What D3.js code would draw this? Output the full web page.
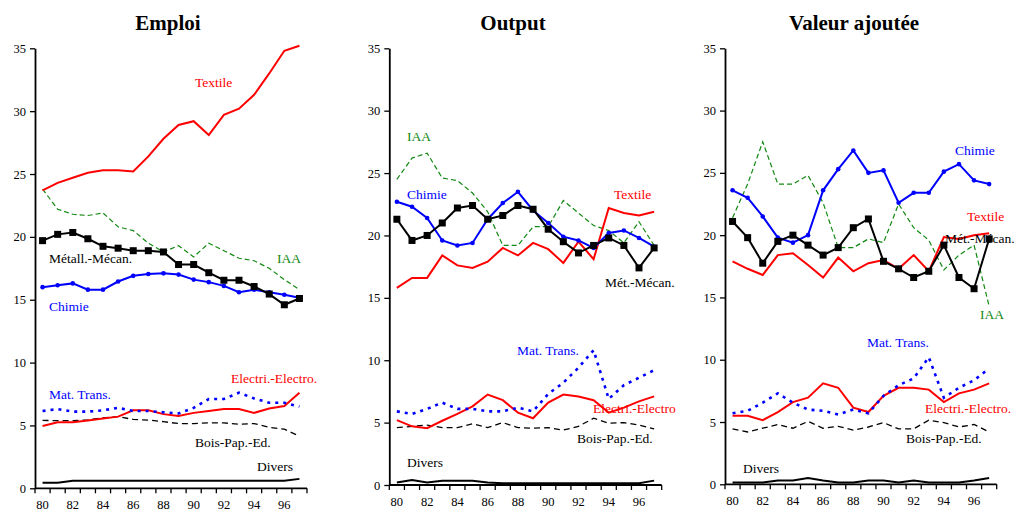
<!DOCTYPE html>
<html>
<head>
<meta charset="utf-8">
<script src="https://cdn.jsdelivr.net/npm/d3@7"></script>
<style>
  html, body { margin: 0; padding: 0; background: #fff; }
  svg { display: block; font-family: "Liberation Serif", "DejaVu Serif", serif; }
</style>
</head>
<body>
<svg id="chart" width="1015" height="513"></svg>
<script>
// ---------- data ----------
const years = ["80","81","82","83","84","85","86","87","88","89","90","91","92","93","94","95","96","97"];
const yearLabels = ["80","82","84","86","88","90","92","94","96"];
const yTicks = [0, 5, 10, 15, 20, 25, 30, 35];
const panelTitles = ["Emploi", "Output", "Valeur ajoutée"];

// Emploi
const emploiTextile = [23.7,24.3,24.7,25.1,25.3,25.3,25.2,26.4,27.8,28.9,29.2,28.1,29.7,30.2,31.3,33.0,34.8,35.2];
const emploiIAA     = [23.8,22.2,21.8,21.7,21.9,20.8,20.5,19.5,18.8,19.3,18.4,19.5,18.9,18.3,18.1,17.5,16.6,15.8];
const emploiMetal   = [19.7,20.2,20.35,19.85,19.25,19.1,18.9,18.9,18.8,17.8,17.8,17.15,16.55,16.55,16.05,15.45,14.6,15.1];
const emploiChimie  = [16.0,16.15,16.3,15.8,15.8,16.45,16.9,17.05,17.1,17.0,16.6,16.4,16.1,15.6,15.8,15.6,15.4,15.15];
const emploiMatTr   = [6.15,6.3,6.1,6.1,6.2,6.4,6.15,6.15,6.05,5.95,6.4,7.1,7.1,7.6,7.15,6.8,6.8,6.5];
const emploiElec    = [4.95,5.25,5.25,5.4,5.55,5.7,6.2,6.2,5.9,5.75,6.0,6.15,6.3,6.3,6.0,6.35,6.55,7.6];
const emploiBois    = [5.4,5.38,5.38,5.45,5.6,5.7,5.48,5.43,5.3,5.15,5.15,5.2,5.2,5.1,5.15,4.85,4.7,4.15];
const emploiDivers  = [0.45,0.45,0.6,0.6,0.6,0.6,0.6,0.6,0.6,0.6,0.6,0.6,0.6,0.6,0.6,0.6,0.6,0.75];

// Output
const outputTextile = [15.8,16.6,16.6,18.4,17.6,17.4,17.9,19.0,18.4,19.4,18.9,17.8,19.5,18.1,22.2,21.8,21.6,21.9];
const outputIAA     = [24.5,26.2,26.6,24.6,24.4,23.4,21.9,19.2,19.2,20.7,20.7,22.8,21.8,20.8,20.4,19.4,21.1,19.2];
const outputMetal   = [21.3,19.6,20.0,21.0,22.2,22.4,21.3,21.6,22.4,22.1,20.5,19.5,18.6,19.2,19.8,19.2,17.4,19.0];
const outputChimie  = [22.7,22.3,21.4,19.6,19.2,19.4,21.3,22.6,23.5,22.0,21.0,19.9,19.6,19.0,20.2,20.4,19.8,19.1];
const outputMatTr   = [5.9,5.7,6.1,6.6,6.1,6.1,5.9,5.9,6.2,5.9,7.3,8.2,9.4,10.8,6.9,8.0,8.6,9.2];
const outputElec    = [5.2,4.7,4.55,5.15,5.7,6.3,7.25,6.8,5.8,5.35,6.6,7.25,7.1,6.8,5.8,6.2,6.7,7.1];
const outputBois    = [4.6,4.7,4.8,4.6,4.6,4.9,4.6,5.0,4.6,4.55,4.6,4.4,4.7,5.35,4.95,5.0,4.8,4.5];
const outputDivers  = [0.2,0.4,0.2,0.35,0.35,0.35,0.2,0.15,0.15,0.15,0.15,0.15,0.15,0.15,0.15,0.15,0.15,0.35];

// Valeur ajoutée
const vaTextile = [17.9,17.3,16.8,18.4,18.55,17.6,16.6,18.2,17.1,17.75,18.0,17.3,18.4,17.1,19.85,19.7,20.0,20.15];
const vaIAA     = [21.4,24.1,27.5,24.1,24.1,24.8,22.6,19.0,19.0,19.7,19.4,22.5,20.6,19.6,17.2,18.4,19.2,14.3];
const vaMetal   = [21.1,19.8,17.75,19.5,20.0,19.2,18.4,19.0,20.6,21.3,17.9,17.3,16.6,17.1,19.2,16.6,15.7,19.7];
const vaChimie  = [23.6,23.0,21.5,19.8,19.4,20.0,23.6,25.3,26.8,25.0,25.2,22.6,23.4,23.4,25.1,25.7,24.4,24.1];
const vaMatTr   = [5.7,5.9,6.55,7.3,6.55,6.0,5.9,5.6,6.0,5.7,7.1,7.95,8.5,10.2,6.95,7.75,8.35,9.3];
const vaElec    = [5.5,5.5,5.15,5.8,6.6,6.95,8.1,7.75,6.15,5.8,7.1,7.75,7.75,7.6,6.6,7.3,7.6,8.1];
const vaBois    = [4.45,4.2,4.5,4.8,4.5,5.05,4.5,4.65,4.35,4.6,4.95,4.45,4.45,5.15,4.95,4.6,4.8,4.2];
const vaDivers  = [0.15,0.15,0.15,0.3,0.3,0.5,0.3,0.15,0.15,0.3,0.3,0.15,0.3,0.15,0.15,0.15,0.3,0.5];

// ---------- styles per series ----------
const styles = {
  textile: { color: "#ff0000", width: 2, dash: null },
  iaa:     { color: "#118811", width: 1.2, dash: "5,3" },
  metal:   { color: "#000000", width: 2, dash: null, marker: "square" },
  chimie:  { color: "#0000ff", width: 2, dash: null, marker: "circle" },
  matTr:   { color: "#0000ff", width: 2.6, dash: "3,5" },
  elec:    { color: "#ff0000", width: 2, dash: null },
  bois:    { color: "#000000", width: 1.3, dash: "6,4" },
  divers:  { color: "#000000", width: 2, dash: null }
};
const drawOrder = ["divers","bois","elec","matTr","iaa","textile","chimie","metal"];

const panels = [
  { title: panelTitles[0], left: 35, right: 307, yTop: 48.3, yBottom: 488.3, titleX: 168,
    series: { textile: emploiTextile, iaa: emploiIAA, metal: emploiMetal, chimie: emploiChimie,
              matTr: emploiMatTr, elec: emploiElec, bois: emploiBois, divers: emploiDivers },
    labels: [
      { text: "Textile", key: "textile", x: 195, y: 87 },
      { text: "IAA", key: "iaa", x: 277, y: 263 },
      { text: "Métall.-Mécan.", key: "metal", x: 49, y: 263 },
      { text: "Chimie", key: "chimie", x: 49, y: 311 },
      { text: "Mat. Trans.", key: "matTr", x: 49, y: 399 },
      { text: "Electri.-Electro.", key: "elec", x: 231, y: 383 },
      { text: "Bois-Pap.-Ed.", key: "bois", x: 195, y: 447 },
      { text: "Divers", key: "divers", x: 257, y: 471 }
    ] },
  { title: panelTitles[1], left: 389.3, right: 661.7, yTop: 48.3, yBottom: 485, titleX: 513,
    series: { textile: outputTextile, iaa: outputIAA, metal: outputMetal, chimie: outputChimie,
              matTr: outputMatTr, elec: outputElec, bois: outputBois, divers: outputDivers },
    labels: [
      { text: "IAA", key: "iaa", x: 407, y: 141 },
      { text: "Chimie", key: "chimie", x: 407, y: 199 },
      { text: "Textile", key: "textile", x: 614, y: 199 },
      { text: "Mét.-Mécan.", key: "metal", x: 605, y: 287 },
      { text: "Mat. Trans.", key: "matTr", x: 517, y: 355 },
      { text: "Electri.-Electro", key: "elec", x: 593, y: 413 },
      { text: "Bois-Pap.-Ed.", key: "bois", x: 577, y: 443 },
      { text: "Divers", key: "divers", x: 407, y: 467 }
    ] },
  { title: panelTitles[2], left: 725, right: 996.7, yTop: 48.3, yBottom: 484.3, titleX: 854,
    series: { textile: vaTextile, iaa: vaIAA, metal: vaMetal, chimie: vaChimie,
              matTr: vaMatTr, elec: vaElec, bois: vaBois, divers: vaDivers },
    labels: [
      { text: "Chimie", key: "chimie", x: 955, y: 155 },
      { text: "Textile", key: "textile", x: 967, y: 221 },
      { text: "Mét.-Mécan.", key: "metal", x: 945, y: 243 },
      { text: "IAA", key: "iaa", x: 980, y: 319 },
      { text: "Mat. Trans.", key: "matTr", x: 867, y: 347 },
      { text: "Electri.-Electro.", key: "elec", x: 925, y: 413 },
      { text: "Bois-Pap.-Ed.", key: "bois", x: 906, y: 443 },
      { text: "Divers", key: "divers", x: 743, y: 473 }
    ] }
];

// ---------- drawing ----------
const svg = d3.select("#chart");

panels.forEach(p => {
  const g = svg.append("g");
  const x = d3.scaleBand().domain(years).range([p.left, p.right]).padding(0);
  const y = d3.scaleLinear().domain([0, 35]).range([p.yBottom, p.yTop]);
  const cx = d => x(d) + x.bandwidth() / 2;

  // title
  g.append("text").attr("x", p.titleX).attr("y", 30).attr("text-anchor", "middle")
    .attr("font-size", 21).attr("font-weight", "bold").text(p.title);

  // y axis
  const yAxis = d3.axisLeft(y).tickValues(yTicks).tickSize(5).tickSizeOuter(0).tickPadding(4);
  const ya = g.append("g").attr("transform", `translate(${p.left},0)`).call(yAxis);
  ya.select(".domain").attr("stroke", "#000").attr("stroke-width", 1.8);
  ya.selectAll(".tick line").attr("stroke", "#000").attr("stroke-width", 1.3);
  ya.selectAll(".tick text").attr("font-family", "Liberation Serif, serif").attr("font-size", 12.5).attr("fill", "#000");

  // x axis: line, ticks at category boundaries, labels at centers of even years
  const xa = g.append("g");
  xa.append("line").attr("x1", p.left).attr("x2", p.right).attr("y1", y(0)).attr("y2", y(0))
    .attr("stroke", "#000").attr("stroke-width", 1.8);
  const edges = years.map(d => x(d)).concat([x(years[years.length - 1]) + x.bandwidth()]);
  xa.selectAll("line.xt").data(edges).enter().append("line").attr("class", "xt")
    .attr("x1", d => d).attr("x2", d => d).attr("y1", y(0)).attr("y2", y(0) + 5)
    .attr("stroke", "#000").attr("stroke-width", 1.3);
  xa.selectAll("text").data(yearLabels).enter().append("text")
    .attr("x", d => cx(d)).attr("y", y(0) + 21).attr("text-anchor", "middle")
    .attr("font-size", 12.5).text(d => d);

  // series lines
  drawOrder.forEach(key => {
    const vals = p.series[key];
    const st = styles[key];
    const line = d3.line().x((d, i) => cx(years[i])).y(d => y(d));
    g.append("path").datum(vals).attr("d", line)
      .attr("fill", "none").attr("stroke", st.color).attr("stroke-width", st.width)
      .attr("stroke-dasharray", st.dash).attr("stroke-linejoin", "miter");
    if (st.marker === "square") {
      g.selectAll(null).data(vals).enter().append("rect")
        .attr("x", (d, i) => cx(years[i]) - 3.5).attr("y", d => y(d) - 3.5)
        .attr("width", 7).attr("height", 7).attr("fill", st.color);
    } else if (st.marker === "circle") {
      g.selectAll(null).data(vals).enter().append("circle")
        .attr("cx", (d, i) => cx(years[i])).attr("cy", d => y(d))
        .attr("r", 2.3).attr("fill", st.color);
    }
  });

  // series labels
  p.labels.forEach(l => {
    g.append("text").attr("x", l.x).attr("y", l.y).attr("font-size", 13.5)
      .attr("fill", styles[l.key].color).text(l.text);
  });
});
</script>
</body>
</html>
